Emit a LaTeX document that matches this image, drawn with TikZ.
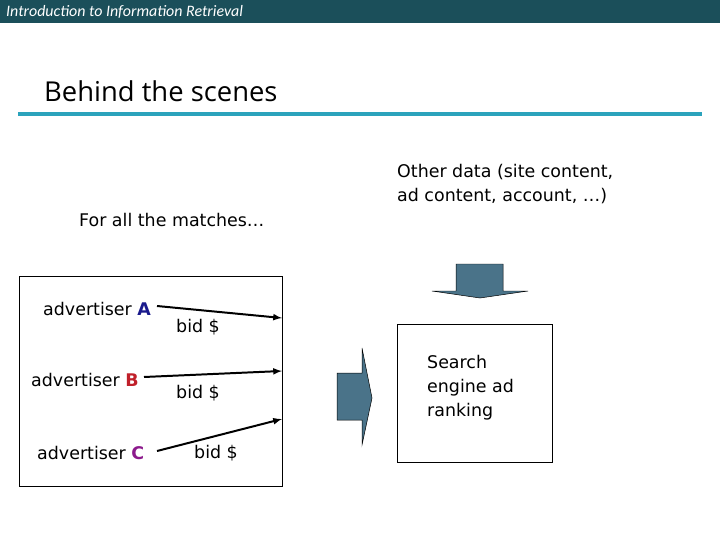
\documentclass[tikz,border=0pt]{standalone}
\usepackage{fontspec}
\setmainfont{DejaVu Sans}
\newfontfamily\hdr{Carlito}
\newfontfamily\ttl{Open Sans}
\begin{document}
\begin{tikzpicture}[x=1bp,y=-1bp,
  txt/.style={anchor=west,inner sep=0pt,font=\fontsize{17.5}{24}\selectfont},
  bid/.style={-latex,line width=2pt},
  blk/.style={fill=blockc,draw=black,line width=0.5pt}]
\definecolor{hdrc}{HTML}{1B4F5A}
\definecolor{rulec}{HTML}{2BA3BC}
\definecolor{blockc}{HTML}{4A7389}
\definecolor{cA}{HTML}{1A1A8C}
\definecolor{cB}{HTML}{C0202A}
\definecolor{cC}{HTML}{8C1A8C}
\useasboundingbox (0,0) rectangle (720,540);
\fill[hdrc] (0,0) rectangle (720,23);
\node[anchor=west,inner sep=0pt,text=white,font=\hdr\itshape\fontsize{16}{18}\selectfont] (h) at (6,12) {Introduction to Information Retrieval};
\node[anchor=west,inner sep=0pt,font=\ttl\fontsize{27.5}{32}\selectfont] (t) at (44,91) {Behind the scenes};
\draw[rulec,line width=3.5pt] (18,114) -- (702,114);
\node[txt] (fm) at (79,220) {For all the matches…};
\node[txt,align=left] (od) at (397,184) {Other data (site content,\\ad content, account, …)};
\node[draw,line width=0.7pt,minimum width=263bp,minimum height=210bp,anchor=north west,inner sep=0pt] (box) at (19,276) {};
\node[txt] (a) at (43,309) {advertiser \textcolor{cA}{\bfseries A}};
\node[txt] (b) at (31,380) {advertiser \textcolor{cB}{\bfseries B}};
\node[txt] (c) at (37,453) {advertiser \textcolor{cC}{\bfseries C}};
\node[txt] (ba) at (176,327) {bid \$};
\node[txt] (bb) at (176,393) {bid \$};
\node[txt] (bc) at (194,453) {bid \$};
\coordinate (ea) at (282,318);
\coordinate (eb) at (282,371);
\coordinate (ec) at (282,419);
\draw[bid] (157,306) -- (ea);
\draw[bid] (144,377) -- (eb);
\draw[bid] (157,451) -- (ec);
\draw[blk] (337,373) -- (362,373) -- (362,348) -- (372,398) -- (362,445) -- (362,420) -- (337,420) -- cycle;
\draw[blk] (456,264) -- (503,264) -- (503,291) -- (528,291) -- (480,298) -- (432,291) -- (456,291) -- cycle;
\node[draw,line width=0.7pt,minimum width=155bp,minimum height=138bp,anchor=north west,inner sep=0pt] (se) at (397,324) {};
\node[txt,align=left] (st) at (427,388) {Search\\engine ad\\ranking};
\end{tikzpicture}
\end{document}
